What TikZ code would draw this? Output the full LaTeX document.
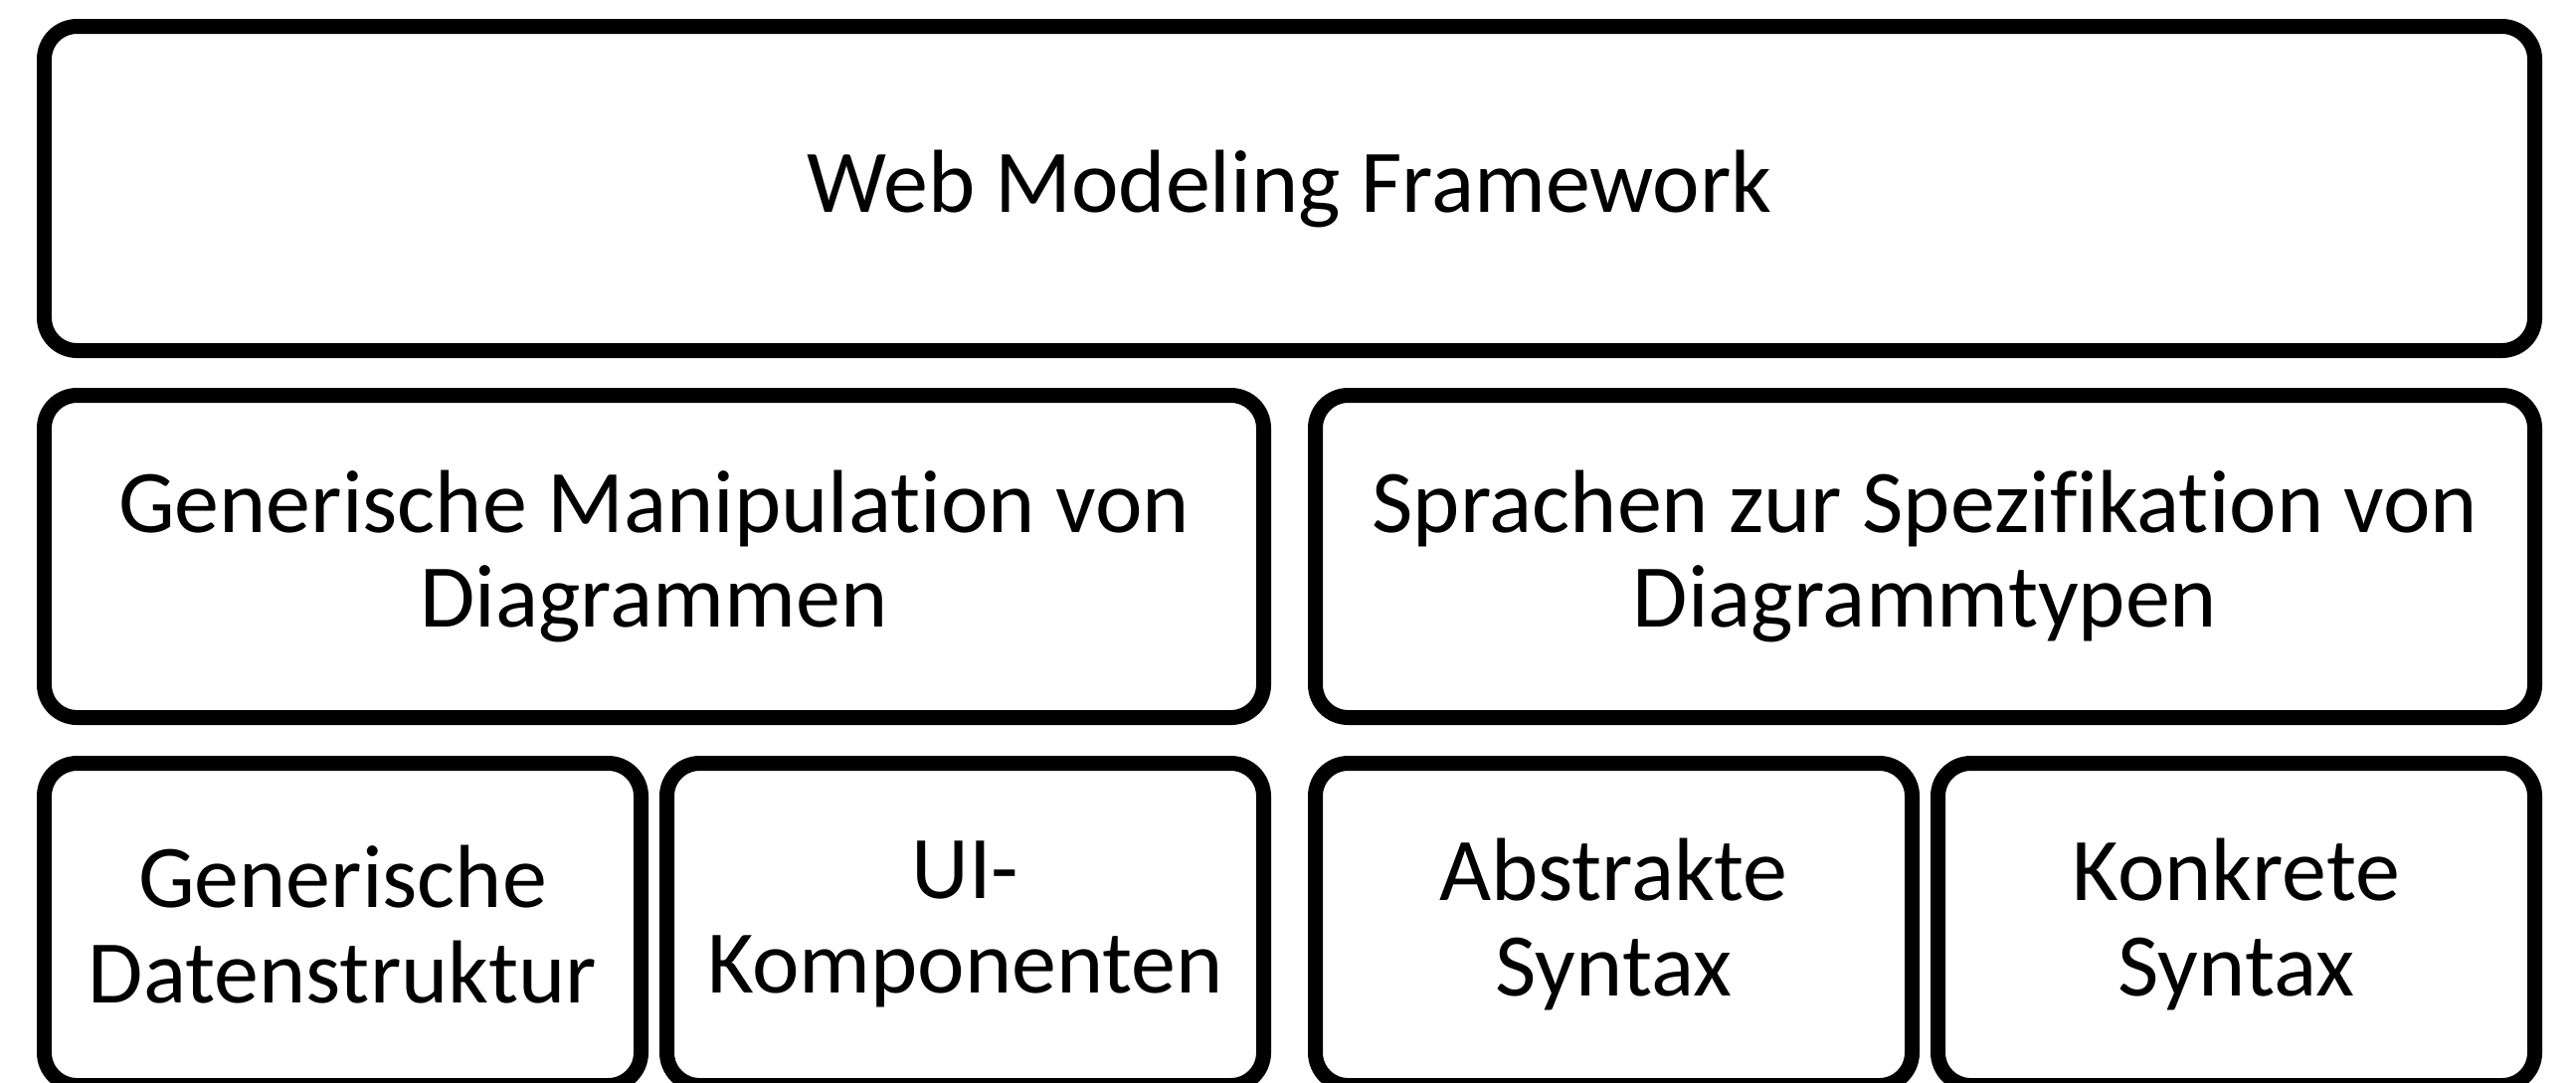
\documentclass[tikz,border=0pt]{standalone}
\usepackage{fontspec}
\setmainfont[Ligatures=NoCommon]{Carlito}
\usetikzlibrary{positioning}

\tikzset{
  layerbox/.style={draw, line width=0.15cm, rounded corners=0.33cm, outer sep=0pt,
    inner sep=0pt, align=center, font=\fontsize{25.6}{27.2}\selectfont},
  widebox/.style={layerbox, minimum width=12.26cm, minimum height=3.24cm},
  smallbox/.style={layerbox, minimum width=6.00cm, minimum height=3.24cm}
}

\begin{document}
\begin{tikzpicture}
    \useasboundingbox (0,0) rectangle (25.90,-10.88);

    % top layer
    \node[layerbox, minimum width=25.04cm, minimum height=3.26cm] (wmf) at (12.965,-1.895) {Web Modeling Framework};

    % middle layer
    \node[widebox, below right=0.45cm and 0cm of wmf.south west] (manip) {Generische Manipulation von\\Diagrammen};
    \node[widebox, below left=0.45cm and 0cm of wmf.south east] (sprachen) {Sprachen zur Spezifikation von\\Diagrammtypen};

    % bottom layer
    \node[smallbox, below right=0.46cm and 0cm of manip.south west] (daten) {Generische\\Datenstruktur};
    \node[smallbox, below left=0.46cm and 0cm of manip.south east] (ui) {UI-\\Komponenten};
    \node[smallbox, below right=0.46cm and 0cm of sprachen.south west] (abstrakt) {Abstrakte\\Syntax};
    \node[smallbox, below left=0.46cm and 0cm of sprachen.south east] (konkret) {Konkrete\\Syntax};
\end{tikzpicture}
\end{document}
